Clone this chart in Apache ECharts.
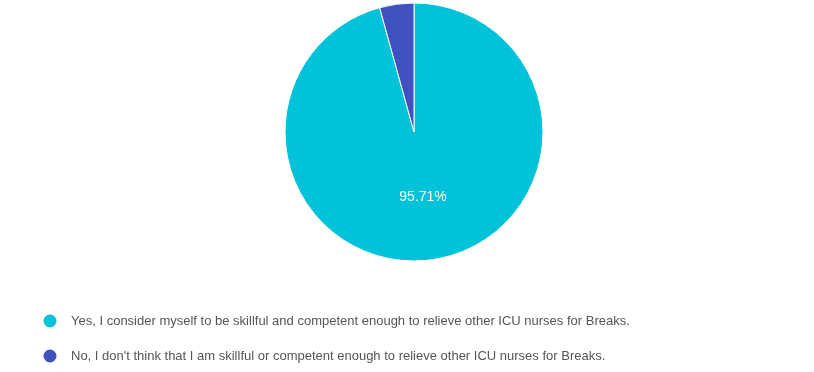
<!DOCTYPE html>
<html><head><meta charset="utf-8">
<script src="https://cdn.jsdelivr.net/npm/echarts@6/dist/echarts.min.js"></script>
<style>html,body{margin:0;padding:0;background:#fff;}#c{width:814px;height:372px;}</style>
</head><body><div id="c"></div>
<script>
var categories = [
  "Yes, I consider myself to be skillful and competent enough to relieve other ICU nurses for Breaks.",
  "No, I don't think that I am skillful or competent enough to relieve other ICU nurses for Breaks."
];
var values = [95.71, 4.29];
var colors = ["#00c2d9", "#3f51bf"];

var legendTops = [312.5, 347.5];
var chart = echarts.init(document.getElementById('c'));
chart.setOption({
  animation: false,
  legend: categories.map(function (n, i) {
    return {
      orient: 'horizontal',
      left: 41.5,
      top: legendTops[i],
      padding: 0,
      itemWidth: 15,
      itemHeight: 15,
      icon: 'circle',
      selectedMode: false,
      data: [n],
      textStyle: { fontFamily: 'Liberation Sans, Arial', fontSize: 13, color: '#555',
        padding: [0, 0, 0, 8.5] }
    };
  }),
  series: [{
    type: 'pie',
    center: [414, 132],
    radius: 129,
    startAngle: 90,
    clockwise: true,
    itemStyle: { borderColor: '#fff', borderWidth: 1 },
    label: { show: true, position: 'inner', color: '#fff', offset: [0, -2],
      fontFamily: 'Liberation Sans, Arial', fontSize: 14 },
    labelLine: { show: false },
    emphasis: { disabled: true },
    data: categories.map(function (n, i) {
      return { name: n, value: values[i], itemStyle: { color: colors[i] },
        label: { show: i === 0, formatter: values[i].toFixed(2) + '%' } };
    })
  }]
});
</script></body></html>
